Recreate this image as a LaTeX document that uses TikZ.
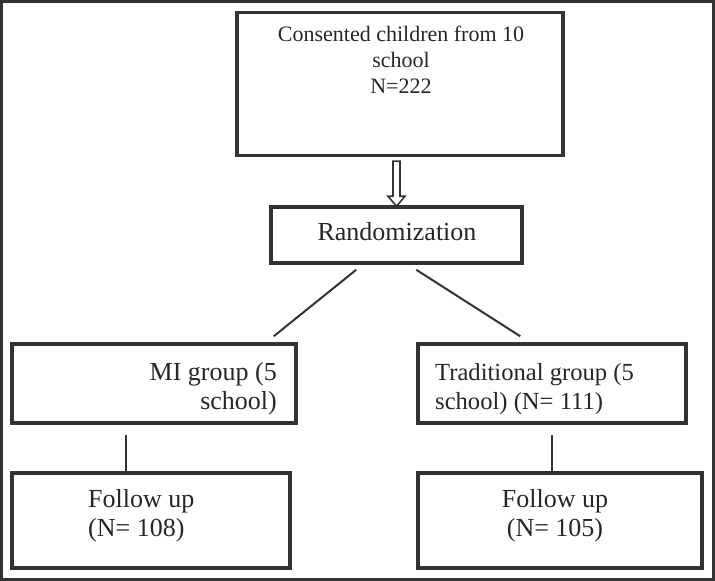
\documentclass[tikz,border=0pt]{standalone}
\usepackage{fontspec}
\setmainfont{Liberation Serif}
\usetikzlibrary{calc}
\definecolor{ink}{HTML}{333333}
\definecolor{txt}{HTML}{262626}
\begin{document}
\begin{tikzpicture}[x=1pt,y=-1pt,
  box/.style={draw=ink, line width=3.5pt, rectangle, inner sep=0pt},
  lbl/.style={text=txt, inner sep=0pt},
  conn/.style={draw=ink, line width=2pt},
  big/.style={font=\fontsize{26}{29}\selectfont}]
\useasboundingbox (0,0) rectangle (715,581);
\draw[ink, line width=2.6pt] (1.5,1.5) rectangle (713.5,579.5);
% boxes
\node[box, minimum width=326pt, minimum height=143pt] (top) at (400,84) {};
\node[box, minimum width=251pt, minimum height=56pt] (rand) at (396.5,235) {};
\node[box, minimum width=284pt, minimum height=79pt] (mi) at (154,383.5) {};
\node[box, minimum width=268pt, minimum height=79pt] (trad) at (552,383.5) {};
\node[box, minimum width=278pt, minimum height=95pt] (fl) at (151,520.5) {};
\node[box, minimum width=284pt, minimum height=95pt] (fr) at (560,520.5) {};
% texts
\node[lbl, anchor=north, align=center, font=\fontsize{22}{26.3}\selectfont] (topT) at (401,25.7) {Consented children from 10\\school\\N=222};
\node[lbl, big, anchor=base] (randT) at (397,240) {Randomization};
\node[lbl, big, anchor=north east, align=right] (miT) at (277,362.7) {MI group (5\\school)};
\node[lbl, anchor=north west, align=left, font=\fontsize{24.6}{29}\selectfont] (tradT) at (435,363.5) {Traditional group (5\\school) (N= 111)};
\node[lbl, big, anchor=north west, align=left] (flT) at (88,489.2) {Follow up\\(N= 108)};
\node[lbl, big, anchor=north, align=center] (frT) at (555,489.2) {Follow up\\(N= 105)};
% hollow arrow
\begin{scope}[shift={(top.south -| rand.north)}]
\draw[ink, line width=1.6pt, line join=miter] (-3.5,4) -- (-3.5,39) -- (-8.5,39) -- (0,49) -- (8.5,39) -- (3.5,39) -- (3.5,4) -- cycle;
\end{scope}
% connectors
\draw[conn] ($(rand.south west)+(87,5)$) -- ($(mi.north east)+(-24,-6)$);
\draw[conn] ($(rand.south west)+(147,5)$) -- ($(trad.north west)+(104,-6)$);
\draw[conn] ($(mi.south west)+(116,10)$) -- ($(fl.north west)+(116,0)$);
\draw[conn] ($(trad.south west)+(136,10)$) -- ($(fr.north west)+(136,0)$);
\end{tikzpicture}
\end{document}
